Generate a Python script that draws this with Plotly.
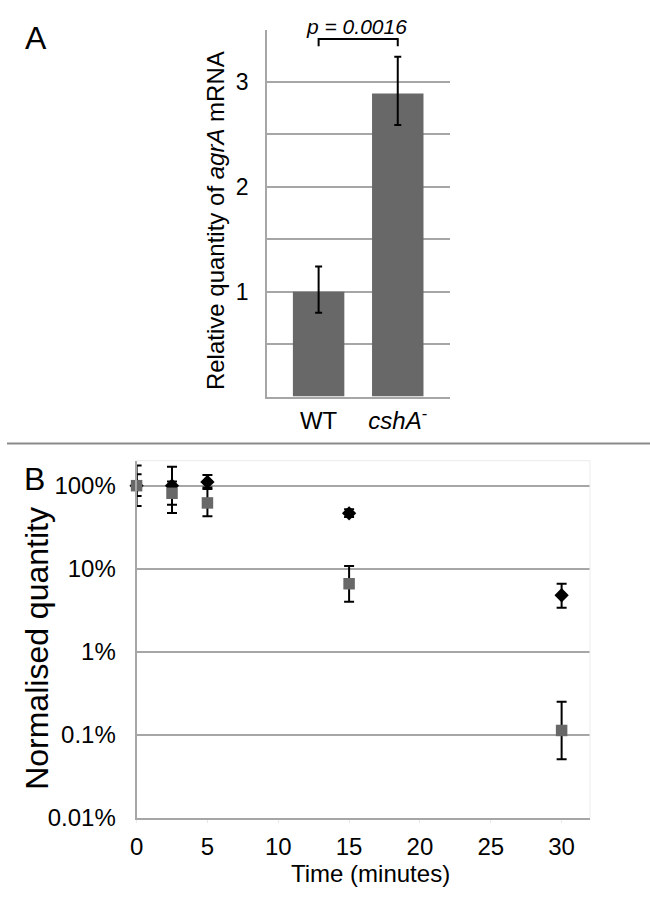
import plotly.graph_objects as go

# ---------------- Panel A data ----------------
categories = ["WT", "cshA-"]
category_labels = ["WT", "<i>cshA</i><sup>-</sup>"]
rel_quantity = [1.0, 2.89]
rel_err_plus = [0.24, 0.35]
rel_err_minus = [0.20, 0.30]
a_yticks = [0.5, 1, 1.5, 2, 2.5, 3]
a_yticklabels = ["", "1", "", "2", "", "3"]
p_text = "<i>p = 0.0016</i>"

# ---------------- Panel B data ----------------
times = [0, 2.5, 5, 15, 30]
wt_pct = [100, 100, 111, 46.5, 4.8]
wt_upper = [175, 169, 134, 52, 6.6]
wt_lower = [57, 59, 95, 42, 3.4]
csha_pct = [100, 81, 62, 6.6, 0.113]
csha_upper = [137, 112, 91, 10.8, 0.25]
csha_lower = [75, 47, 43, 4.0, 0.051]
b_xticks = [0, 5, 10, 15, 20, 25, 30]
b_yticks = [0.01, 0.1, 1, 10, 100]
b_yticklabels = ["0.01%", "0.1%", "1%", "10%", "100%"]

FONT = "Arial, Liberation Sans, sans-serif"
GRID = "#a6a6a6"
BAR = "#686868"

W, H = 650, 917
def px_x(v): return v / W
def px_y(v): return 1 - v / H

fig = go.Figure()

fig.add_trace(go.Bar(
    x=categories, y=rel_quantity, width=0.65,
    marker=dict(color=BAR, line=dict(width=0)),
    error_y=dict(type="data", symmetric=False, array=rel_err_plus,
                 arrayminus=rel_err_minus, color="black", thickness=2, width=3.5),
    xaxis="x", yaxis="y", showlegend=False,
))

fig.add_trace(go.Scatter(
    x=times, y=wt_pct, mode="markers", cliponaxis=False,
    marker=dict(symbol="diamond", size=11, color="black"),
    error_y=dict(type="data", symmetric=False,
                 array=[u - v for u, v in zip(wt_upper, wt_pct)],
                 arrayminus=[v - l for v, l in zip(wt_pct, wt_lower)],
                 color="black", thickness=2, width=5),
    xaxis="x2", yaxis="y2", showlegend=False,
))
fig.add_trace(go.Scatter(
    x=times, y=csha_pct, mode="markers", cliponaxis=False,
    marker=dict(symbol="square", size=11.5, color=BAR),
    error_y=dict(type="data", symmetric=False,
                 array=[u - v for u, v in zip(csha_upper, csha_pct)],
                 arrayminus=[v - l for v, l in zip(csha_pct, csha_lower)],
                 color="black", thickness=2, width=5),
    xaxis="x2", yaxis="y2", showlegend=False,
))

bracket_y, bracket_leg = 3.41, 3.34

fig.update_layout(
    width=W, height=H, margin=dict(l=0, r=0, t=0, b=0, pad=0),
    paper_bgcolor="white", plot_bgcolor="white",
    font=dict(family=FONT, size=24, color="black"),
    xaxis=dict(domain=[px_x(263), px_x(448.3)], range=[-0.65, 1.666],
               type="category", tickmode="array", tickvals=categories,
               ticktext=category_labels, showgrid=False, zeroline=False,
               showline=True, linecolor=GRID, linewidth=2,
               ticks="", ticklabelstandoff=2, tickfont=dict(size=24)),
    yaxis=dict(domain=[px_y(402.3), px_y(30)], range=[0, 3.5],
               tickmode="array", tickvals=a_yticks, ticktext=a_yticklabels,
               showgrid=True, gridcolor=GRID, gridwidth=2, zeroline=False,
               showline=True, linecolor=GRID, linewidth=2,
               ticks="", ticklabelstandoff=12, tickfont=dict(size=23)),
    xaxis2=dict(domain=[px_x(131), px_x(589.3)], range=[0, 32],
                tickmode="array", tickvals=b_xticks, showgrid=False,
                zeroline=False, showline=True, linecolor=GRID, linewidth=2,
                ticks="outside", ticklen=3, tickcolor="#e8e8e8", tickwidth=1,
                ticklabelstandoff=3, tickfont=dict(size=24), anchor="y2"),
    yaxis2=dict(domain=[px_y(829.7), px_y(467.3)], type="log",
                range=[-2, 2.301], tickmode="array", tickvals=b_yticks,
                ticktext=b_yticklabels, showgrid=True, gridcolor=GRID,
                gridwidth=2, zeroline=False, showline=True, linecolor=GRID,
                linewidth=2, ticks="", ticklabelstandoff=14,
                tickfont=dict(size=24), anchor="x2"),
    shapes=[
        dict(type="line", xref="paper", yref="paper", x0=0, x1=1,
             y0=px_y(450), y1=px_y(450), line=dict(color="#8a8a8a", width=2)),
        dict(type="line", xref="x2 domain", yref="y2 domain", x0=0, x1=1,
             y0=1, y1=1, line=dict(color="#ebebeb", width=1)),
        dict(type="line", xref="x2 domain", yref="y2 domain", x0=1, x1=1,
             y0=0, y1=1, line=dict(color="#ebebeb", width=1)),
        dict(type="path", xref="x", yref="y",
             path=f"M 0,{bracket_leg} L 0,{bracket_y} L 1,{bracket_y} L 1,{bracket_leg}",
             line=dict(color="black", width=2)),
    ],
    annotations=[
        dict(text="A", x=px_x(29), y=px_y(39), xref="paper", yref="paper",
             showarrow=False, font=dict(size=32), xanchor="center", yanchor="middle"),
        dict(text="B", x=px_x(27.5), y=px_y(486), xref="paper", yref="paper",
             showarrow=False, font=dict(size=32), xanchor="center", yanchor="middle"),
        dict(text=p_text, x=px_x(353), y=px_y(27), xref="paper", yref="paper",
             showarrow=False, font=dict(size=21), xanchor="center", yanchor="middle"),
        dict(text="Relative quantity of <i>agrA</i> mRNA", x=px_x(211), y=px_y(223.5),
             xref="paper", yref="paper", showarrow=False, textangle=-90,
             font=dict(size=24), xanchor="center", yanchor="middle"),
        dict(text="Normalised quantity", x=px_x(31), y=px_y(657.5),
             xref="paper", yref="paper", showarrow=False, textangle=-90,
             font=dict(size=32), xanchor="center", yanchor="middle"),
        dict(text="Time (minutes)", x=px_x(367.5), y=px_y(886),
             xref="paper", yref="paper", showarrow=False,
             font=dict(size=24), xanchor="center", yanchor="middle"),
    ],
)

fig.write_html(
    "out.html",
    config={"displayModeBar": False},
    post_script="document.body.style.margin='0';",
)
